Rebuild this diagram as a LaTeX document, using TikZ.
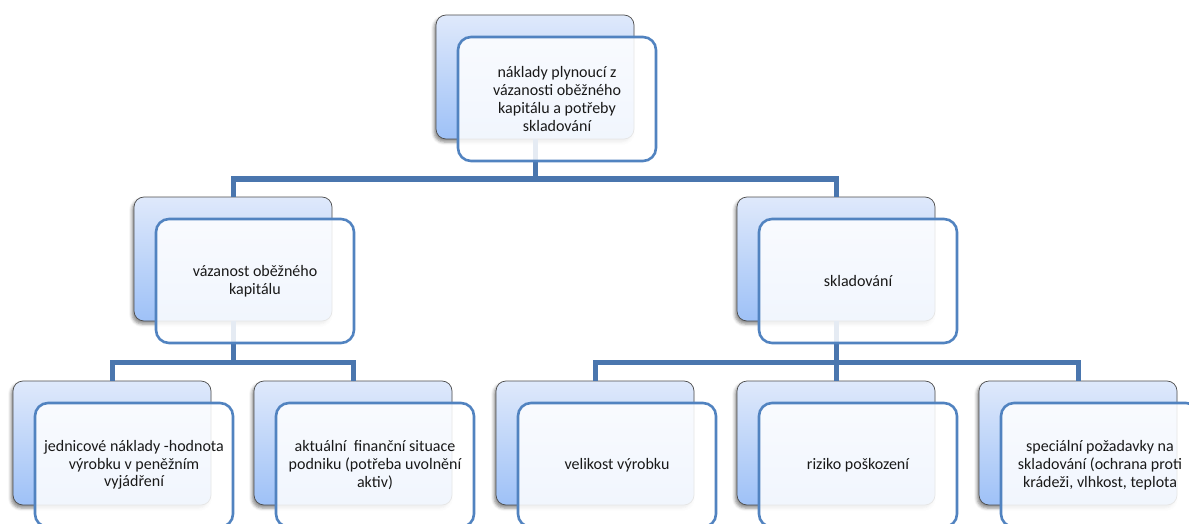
\documentclass[tikz,border=0pt]{standalone}
\usepackage{fontspec}
\setmainfont{Carlito}
\usetikzlibrary{shadows.blur}
\definecolor{linkblue}{HTML}{4A76AE}
\definecolor{frameblue}{HTML}{5183C0}
\definecolor{cardtop}{RGB}{223,233,251}
\definecolor{cardbottom}{RGB}{158,193,247}
\begin{document}
\begin{tikzpicture}[x=1pt,y=-1pt,
  backcard/.style={draw=black!70, line width=0.7pt, rounded corners=10pt,
    minimum width=198pt, minimum height=124pt, inner sep=0pt,
    top color=cardtop, bottom color=cardbottom,
    blur shadow={shadow xshift=-2pt, shadow yshift=-3pt,
      shadow blur radius=3pt, shadow opacity=45}},
  frontcard/.style={draw=frameblue, line width=2.6pt, rounded corners=13pt,
    minimum width=198pt, minimum height=124pt, inner sep=0pt,
    fill=white, fill opacity=0.86, text opacity=1, text=black!90,
    align=center, font=\fontsize{16}{17.8}\selectfont},
  link/.style={draw=linkblue, line width=5pt, line join=miter}
]
\useasboundingbox (0,0) rectangle (1189,524);
\clip (0,0) rectangle (1189,524);

% levels of the tree
\coordinate (busA) at (0,179);
\coordinate (busB) at (0,362);

% back cards
\node[backcard] (topB)  at (535,77)  {};
\node[backcard] (midLB) at (233,259) {};
\node[backcard] (midRB) at (836,259) {};
\node[backcard] (b1B)   at (112,443) {};
\node[backcard] (b2B)   at (353,443) {};
\node[backcard] (b3B)   at (595,443) {};
\node[backcard] (b4B)   at (836,443) {};
\node[backcard] (b5B)   at (1078,443) {};

% connectors (drawn below the front cards)
\draw[link] (topB.south) -- (topB.south |- busA);
\draw[link] (midLB.north) |- (topB.south |- busA) -| (midRB.north);
\draw[link] (midLB.south) -- (midLB.south |- busB);
\draw[link] (b1B.north) |- (midLB.south |- busB) -| (b2B.north);
\draw[link] (midRB.south) -- (midRB.south |- busB);
\draw[link] (b3B.north) |- (midRB.south |- busB) -| (b5B.north);
\draw[link] (b4B.north) -- (b4B.north |- busB);

% front cards with the texts
\node[frontcard] (topF)  at (557,99)  {náklady plynoucí z\\vázanosti oběžného\\kapitálu a potřeby\\skladování};
\node[frontcard] (midLF) at (255,281) {vázanost oběžného\\kapitálu};
\node[frontcard] (midRF) at (858,281) {skladování};
\node[frontcard] (b1F)   at (134,465) {jednicové náklady -hodnota\\výrobku v peněžním\\vyjádření};
\node[frontcard] (b2F)   at (375,465) {aktuální~ finanční situace\\podniku (potřeba uvolnění\\aktiv)};
\node[frontcard] (b3F)   at (617,465) {velikost výrobku};
\node[frontcard] (b4F)   at (858,465) {riziko poškození};
\node[frontcard] (b5F)   at (1100,465) {speciální požadavky na\\skladování (ochrana proti\\krádeži, vlhkost, teplota};
\end{tikzpicture}
\end{document}
